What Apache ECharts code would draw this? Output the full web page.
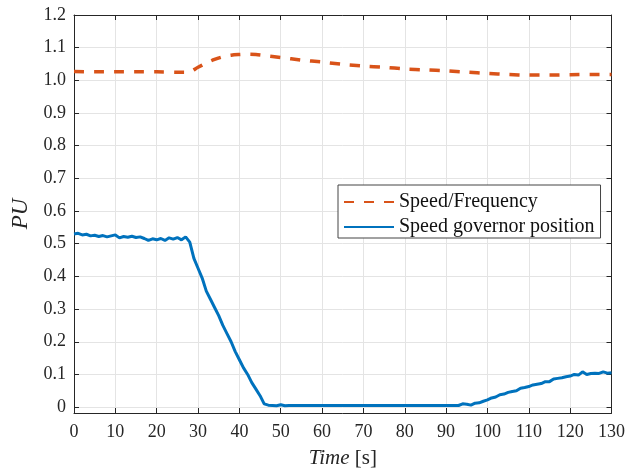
<!DOCTYPE html>
<html>
<head>
<meta charset="utf-8">
<script src="https://cdn.jsdelivr.net/npm/echarts@6/dist/echarts.min.js"></script>
<style>
  html, body { margin: 0; padding: 0; background: #fff; }
  #chart { width: 628px; height: 474px; }
</style>
</head>
<body>
<div id="chart"></div>
<script>
// Speed / frequency response (per unit)
const speedTime = [0, 5, 10, 15, 20, 25, 27, 28, 30, 32, 34, 36, 38, 40, 42, 44, 46, 50, 55, 60, 65, 70, 75, 80, 85, 90, 95, 100, 105, 110, 115, 120, 125, 130];
const speedValues = [1.027, 1.026, 1.026, 1.026, 1.026, 1.025, 1.025, 1.026, 1.040, 1.053, 1.064, 1.072, 1.077, 1.079, 1.080, 1.079, 1.076, 1.070, 1.062, 1.056, 1.049, 1.044, 1.040, 1.035, 1.032, 1.029, 1.025, 1.021, 1.018, 1.016, 1.016, 1.017, 1.018, 1.018];

// Speed governor position, sampled once per second from t = 0 to 130 s
const governorValues = [
  0.530, 0.532, 0.527, 0.529, 0.524, 0.526, 0.522, 0.525, 0.521, 0.524,
  0.527, 0.518, 0.522, 0.520, 0.523, 0.519, 0.521, 0.516, 0.510, 0.515,
  0.512, 0.516, 0.510, 0.518, 0.514, 0.519, 0.512, 0.521, 0.505, 0.455,
  0.425, 0.395, 0.355, 0.330, 0.305, 0.280, 0.250, 0.225, 0.200, 0.170,
  0.145, 0.120, 0.100, 0.075, 0.055, 0.035, 0.010, 0.006, 0.005, 0.004,
  0.007, 0.004, 0.005, 0.005, 0.005, 0.005, 0.005, 0.005, 0.005, 0.005,
  0.005, 0.005, 0.005, 0.005, 0.005, 0.005, 0.005, 0.005, 0.005, 0.005,
  0.005, 0.005, 0.005, 0.005, 0.005, 0.005, 0.005, 0.005, 0.005, 0.005,
  0.005, 0.005, 0.005, 0.005, 0.005, 0.005, 0.005, 0.005, 0.005, 0.005,
  0.005, 0.005, 0.005, 0.005, 0.010, 0.009, 0.006, 0.012, 0.013, 0.018,
  0.022, 0.028, 0.031, 0.038, 0.040, 0.045, 0.048, 0.050, 0.058, 0.060,
  0.063, 0.068, 0.070, 0.072, 0.078, 0.078, 0.086, 0.088, 0.090, 0.093,
  0.095, 0.100, 0.098, 0.108, 0.100, 0.103, 0.104, 0.103, 0.108, 0.104,
  0.105
];
const governorTime = governorValues.map((_, i) => i);

const yTicks = [0, 0.1, 0.2, 0.3, 0.4, 0.5, 0.6, 0.7, 0.8, 0.9, 1.0, 1.1, 1.2];
const seriesNames = ['Speed/Frequency', 'Speed governor position'];

const FONT = '"Liberation Serif", "Times New Roman", serif';
const INK = '#262626';
const GRID = '#e4e4e4';
const CLEAR = 'rgba(0,0,0,0)';

const pairs = (xs, ys) => xs.map((x, i) => [x, ys[i]]);

const chart = echarts.init(document.getElementById('chart'), null, { renderer: 'canvas' });

const xBase = {
  type: 'value', min: 0, max: 130, interval: 10,
  axisLine: { show: true, onZero: false, lineStyle: { color: INK, width: 1 } },
  axisTick: { show: true, inside: true, length: 5, lineStyle: { color: INK } }
};
const yBase = {
  type: 'value', min: -0.018, max: 1.2,
  axisLine: { show: true, onZero: false, lineStyle: { color: INK, width: 1 } },
  axisTick: { show: true, inside: true, length: 5, customValues: yTicks, lineStyle: { color: INK } }
};

chart.setOption({
  animation: false,
  backgroundColor: '#fff',
  grid: { left: 74, right: 14, top: 15, bottom: 58, containLabel: false },
  xAxis: [
    Object.assign({}, xBase, {
      position: 'bottom',
      axisLabel: { color: INK, fontFamily: FONT, fontSize: 18, margin: 10 },
      splitLine: { show: true, lineStyle: { color: GRID, width: 1 } },
      name: '{i|Time} [s]',
      nameLocation: 'middle',
      nameGap: 35,
      nameTextStyle: {
        color: INK, fontFamily: FONT, fontSize: 21,
        rich: { i: { fontStyle: 'italic', fontFamily: FONT, fontSize: 21, color: INK } }
      }
    }),
    Object.assign({}, xBase, {
      position: 'top',
      axisLabel: { show: false },
      splitLine: { show: false }
    })
  ],
  yAxis: [
    Object.assign({}, yBase, {
      position: 'left',
      axisLabel: {
        color: INK, fontFamily: FONT, fontSize: 18, margin: 8,
        customValues: yTicks,
        formatter: v => (v === 0 ? '0' : v.toFixed(1))
      },
      splitLine: { show: true, lineStyle: { color: GRID, width: 1 } },
      name: 'PU',
      nameLocation: 'middle',
      nameGap: 40,
      nameRotate: 90,
      nameTextStyle: { color: INK, fontFamily: FONT, fontSize: 23, fontStyle: 'italic' }
    }),
    Object.assign({}, yBase, {
      position: 'right',
      axisLabel: { show: false },
      splitLine: { show: false }
    })
  ],
  legend: {
    orient: 'vertical',
    left: 338,
    top: 185,
    width: 264,
    padding: [7, 6, 1, 5],
    itemGap: 5,
    itemWidth: 50,
    itemHeight: 20,
    backgroundColor: '#fff',
    borderColor: '#444',
    borderWidth: 1,
    borderRadius: 0,
    itemStyle: { color: CLEAR, borderColor: CLEAR, borderWidth: 0, opacity: 0 },
    textStyle: { color: '#111', fontFamily: FONT, fontSize: 20 },
    data: seriesNames
  },
  series: [
    {
      name: seriesNames[0],
      type: 'line',
      data: pairs(speedTime, speedValues),
      smooth: 0.3,
      symbol: 'none',
      lineStyle: { color: '#D95319', width: 3.5, type: [10, 10] },
      itemStyle: { color: '#D95319' },
      z: 2
    },
    {
      name: seriesNames[1],
      type: 'line',
      data: pairs(governorTime, governorValues),
      symbol: 'none',
      lineStyle: { color: '#0072BD', width: 3 },
      itemStyle: { color: '#0072BD' },
      z: 3
    }
  ]
});
</script>
</body>
</html>
